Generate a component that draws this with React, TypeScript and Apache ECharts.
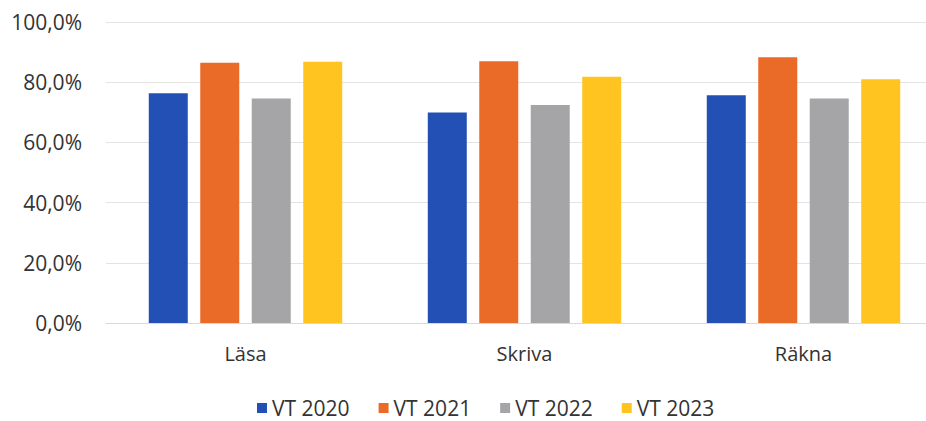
import React, { useEffect, useRef } from "react";
import * as echarts from "echarts";

const categories = ["Läsa", "Skriva", "Räkna"];
const seriesNames = ["VT 2020", "VT 2021", "VT 2022", "VT 2023"];
const vt2020 = [76.3, 69.9, 75.7];
const vt2021 = [86.5, 87.0, 88.3];
const vt2022 = [74.6, 72.4, 74.6];
const vt2023 = [86.8, 81.8, 81.0];
const colors = ["#2350B4", "#EA6A27", "#A5A5A8", "#FFC41F"];

export default function App() {
  const ref = useRef<HTMLDivElement>(null);
  useEffect(() => {
    document.body.style.margin = "0";
    if (!ref.current) return;
    const chart = echarts.init(ref.current, null, { renderer: "svg" });
    const data = [vt2020, vt2021, vt2022, vt2023];
    const font = "'Open Sans', 'Noto Sans', sans-serif";
    chart.setOption({
      animation: false,
      grid: {
        left: 106,
        width: 837,
        top: 22,
        height: 301,
        containLabel: false,
        outerBoundsMode: "none",
      },
      xAxis: {
        type: "category",
        data: categories,
        axisTick: { show: false },
        axisLine: { lineStyle: { color: "#d9d9d9", width: 1 } },
        axisLabel: { color: "#333333", fontSize: 20, fontFamily: font, margin: 20 },
      },
      yAxis: {
        type: "value",
        min: 0,
        max: 100,
        interval: 20,
        axisLine: { show: false },
        axisTick: { show: false },
        splitLine: { lineStyle: { color: "#e3e3e3", width: 1 } },
        axisLabel: {
          color: "#333333",
          fontSize: 21,
          fontFamily: font,
          margin: 24,
          formatter: (v: number) => v.toFixed(1).replace(".", ",") + "%",
        },
      },
      legend: {
        top: 397,
        left: 257,
        padding: 0,
        itemWidth: 10,
        itemHeight: 10,
        itemGap: 29,
        icon: "rect",
        textStyle: { color: "#333333", fontSize: 21, fontFamily: font, lineHeight: 22 },
        data: seriesNames,
      },
      series: seriesNames.map((name, i) => ({
        name,
        type: "bar",
        data: data[i],
        barWidth: 39,
        barGap: "32%",
        itemStyle: { color: colors[i] },
      })),
    });
    return () => chart.dispose();
  }, []);
  return <div ref={ref} style={{ width: 926, height: 421 }} />;
}
